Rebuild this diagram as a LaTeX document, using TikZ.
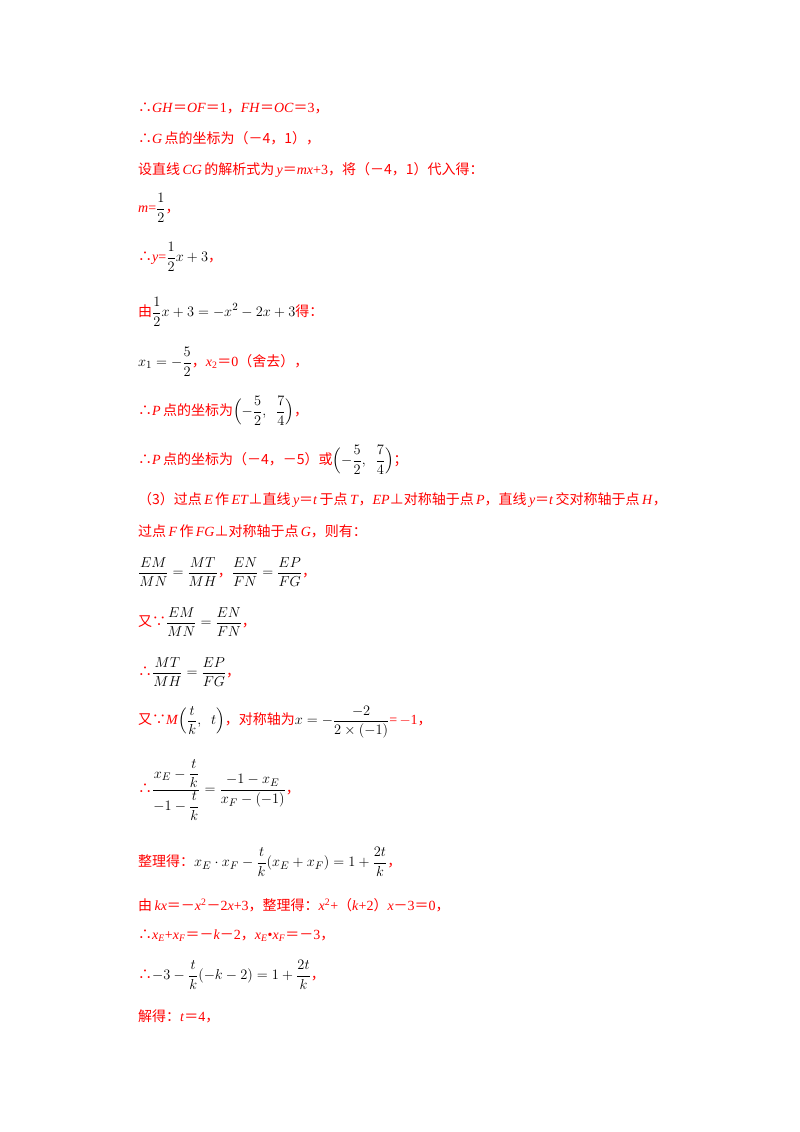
\documentclass[tikz,border=0pt]{standalone}
\usepackage{fontspec}
\usepackage{amsmath}
\setmainfont{Liberation Serif}
\newfontfamily\cjk{Noto Sans CJK SC}
\newcommand{\Z}[1]{{\cjk #1}}
\newcommand{\I}[1]{\textit{#1}}
\newcommand{\B}[1]{{\color{black}\fontsize{15}{18}\selectfont$\displaystyle #1$}}
\begin{document}
\begin{tikzpicture}[x=1pt,y=-1pt,
  txt/.style={anchor=west,inner sep=0,text=red,font=\fontsize{14}{17}\selectfont}]
\useasboundingbox (0,0) rectangle (800,1132);
\node[txt] (l1) at (138,108) {\Z{∴}\I{GH}\Z{＝}\I{OF}\Z{＝}1\Z{，}\I{FH}\Z{＝}\I{OC}\Z{＝}3\Z{，}};
\node[txt] (l2) at (138,138) {\Z{∴}\I{G}\,\Z{点的坐标为（－4，1），}};
\node[txt] (l3) at (138,170) {\Z{设直线}\,\I{CG}\,\Z{的解析式为}\,\I{y}\Z{＝}\I{mx}+3\Z{，将（－4，1）代入得：}};
\node[txt] (l4) at (138,208) {\I{m}=\B{\frac{1}{2}}\Z{，}};
\node[txt] (l5) at (138,257) {\Z{∴}\I{y}=\B{\frac{1}{2}x+3}\Z{，}};
\node[txt] (l6) at (138,312) {\Z{由}\B{\frac{1}{2}x+3=-x^2-2x+3}\Z{得：}};
\node[txt] (l7) at (138,362) {\B{x_1=-\frac{5}{2}}\Z{，}\I{x}\textsubscript{2}\Z{＝}0\Z{（舍去），}};
\node[txt] (l8) at (138,411) {\Z{∴}\I{P}\,\Z{点的坐标为}\B{\Bigl(-\frac{5}{2},\ \ \frac{7}{4}\Bigr)}\Z{，}};
\node[txt] (l9) at (138,460) {\Z{∴}\I{P}\,\Z{点的坐标为（－4，－5）或}\B{\Bigl(-\frac{5}{2},\ \ \frac{7}{4}\Bigr)}\Z{；}};
\node[txt] (l10) at (138,500) {\Z{（3）过点}\,\I{E}\,\Z{作}\,\I{ET}\Z{⊥直线}\,\I{y}\Z{＝}\I{t}\,\Z{于点}\,\I{T}\Z{，}\I{EP}\Z{⊥对称轴于点}\,\I{P}\Z{，直线}\,\I{y}\Z{＝}\I{t}\,\Z{交对称轴于点}\,\I{H}\Z{，}};
\node[txt] (l11) at (138,531) {\Z{过点}\,\I{F}\,\Z{作}\,\I{FG}\Z{⊥对称轴于点}\,\I{G}\Z{，则有：}};
\node[txt] (l12) at (138,572) {\B{\frac{EM}{MN}=\frac{MT}{MH}}\Z{，}\B{\frac{EN}{FN}=\frac{EP}{FG}}\Z{，}};
\node[txt] (l13) at (138,622) {\Z{又∵}\B{\frac{EM}{MN}=\frac{EN}{FN}}\Z{，}};
\node[txt] (l14) at (138,672) {\Z{∴}\B{\frac{MT}{MH}=\frac{EP}{FG}}\Z{，}};
\node[txt] (l15) at (138,722) {\Z{又∵}\I{M}\B{\Bigl(\frac{t}{k},\ \ t\Bigr)}\Z{，对称轴为}\B{x=-\frac{-2}{2\times(-1)}}=\,$-$1\Z{，}};
\node[txt] (l16) at (138,790) {\Z{∴}\B{\frac{x_E-\dfrac{t}{k}}{-1-\dfrac{t}{k}}=\frac{-1-x_E}{x_F-(-1)}}\Z{，}};
\node[txt] (l17) at (138,862) {\Z{整理得：}\B{x_E\cdot x_F-\frac{t}{k}(x_E+x_F)=1+\frac{2t}{k}}\Z{，}};
\node[txt] (l18) at (138,905) {\Z{由}\,\I{kx}\Z{＝－}\I{x}\textsuperscript{2}\Z{－}2\I{x}+3\Z{，整理得：}\I{x}\textsuperscript{2}+\Z{（}\I{k}+2\Z{）}\I{x}\Z{－}3\Z{＝}0\Z{，}};
\node[txt] (l19) at (138,936) {\Z{∴}\I{x}\textsubscript{\I{E}}+\I{x}\textsubscript{\I{F}}\Z{＝－}\I{k}\Z{－}2\Z{，}\I{x}\textsubscript{\I{E}}•\I{x}\textsubscript{\I{F}}\Z{＝－}3\Z{，}};
\node[txt] (l20) at (138,975) {\Z{∴}\B{-3-\frac{t}{k}(-k-2)=1+\frac{2t}{k}}\Z{，}};
\node[txt] (l21) at (138,1016) {\Z{解得：}\I{t}\Z{＝}4\Z{，}};
\end{tikzpicture}
\end{document}
